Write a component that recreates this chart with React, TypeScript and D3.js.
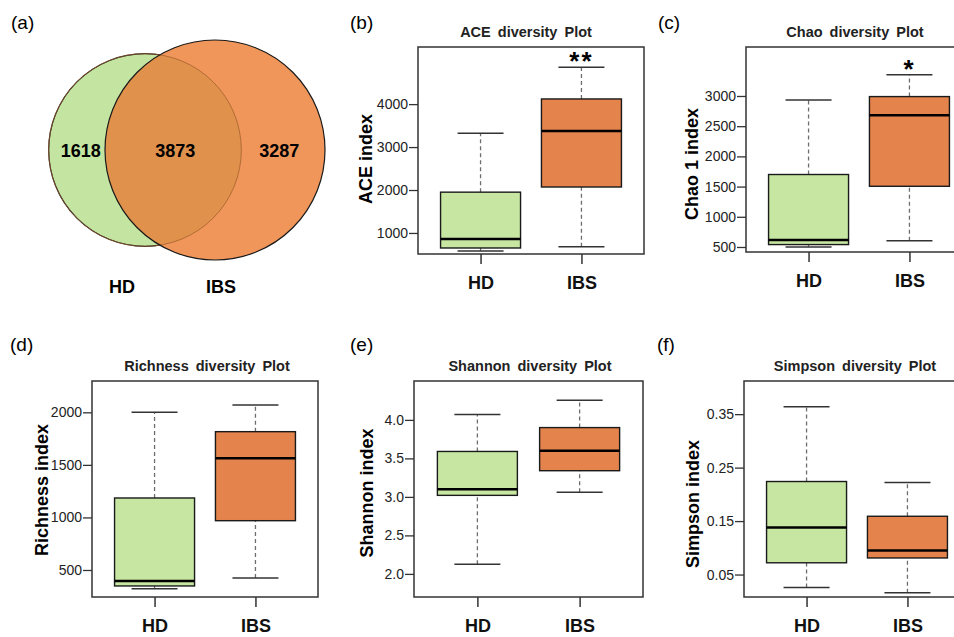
import React, { useEffect, useRef } from "react";
import * as d3 from "d3";

const groups = ["HD", "IBS"];

// venn: HD only, shared, IBS only
const vennCounts = [1618, 3873, 3287];

// box stats per group: [lower whisker, Q1, median, Q3, upper whisker]
const aceStats = [
  [580, 650, 860, 1950, 3320],
  [680, 2070, 3375, 4120, 4860],
];
const chaoStats = [
  [500, 540, 615, 1700, 2935],
  [604, 1505, 2680, 2990, 3350],
];
const richnessStats = [
  [322, 348, 395, 1185, 2000],
  [424, 969, 1563, 1816, 2070],
];
const shannonStats = [
  [2.125, 3.02, 3.1, 3.59, 4.07],
  [3.06, 3.34, 3.6, 3.9, 4.255],
];
const simpsonStats = [
  [0.026, 0.072, 0.138, 0.224, 0.364],
  [0.016, 0.081, 0.095, 0.159, 0.222],
];

const aceTicks = [1000, 2000, 3000, 4000];
const chaoTicks = [500, 1000, 1500, 2000, 2500, 3000];
const richnessTicks = [500, 1000, 1500, 2000];
const shannonTicks = [2.0, 2.5, 3.0, 3.5, 4.0];
const simpsonTicks = [0.05, 0.15, 0.25, 0.35];

const aceSignif = ["", "**"];
const chaoSignif = ["", "*"];

const FONT = "'Liberation Sans', Arial, Helvetica, sans-serif";
const GREEN = "#c6e6a2";
const ORANGE = "#e5834d";

const panels = [
  { tag: "(b)", title: "ACE diversity Plot", ylabel: "ACE index", stats: aceStats, ticks: aceTicks, domain: [510, 5330], fmt: "d", signif: aceSignif,
    left: 418, top: 47, width: 226, height: 207, tagX: 350, tagY: 29, titleX: 526, labelX: 372, labelY: 159 },
  { tag: "(c)", title: "Chao diversity Plot", ylabel: "Chao 1 index", stats: chaoStats, ticks: chaoTicks, domain: [417, 3811], fmt: "d", signif: chaoSignif,
    left: 746, top: 47, width: 226, height: 205, tagX: 658, tagY: 29, titleX: 855, labelX: 698, labelY: 164 },
  { tag: "(d)", title: "Richness diversity Plot", ylabel: "Richness index", stats: richnessStats, ticks: richnessTicks, domain: [243, 2298], fmt: "d", signif: ["", ""],
    left: 92, top: 381, width: 226, height: 216, tagX: 10, tagY: 351, titleX: 207, labelX: 48, labelY: 490 },
  { tag: "(e)", title: "Shannon diversity Plot", ylabel: "Shannon index", stats: shannonStats, ticks: shannonTicks, domain: [1.7, 4.505], fmt: ".1f", signif: ["", ""],
    left: 414, top: 381, width: 229, height: 216, tagX: 350, tagY: 351, titleX: 530, labelX: 373, labelY: 493 },
  { tag: "(f)", title: "Simpson diversity Plot", ylabel: "Simpson index", stats: simpsonStats, ticks: simpsonTicks, domain: [0.008, 0.412], fmt: ".2f", signif: ["", ""],
    left: 744, top: 381, width: 226, height: 216, tagX: 657, tagY: 351, titleX: 855, labelX: 699, labelY: 504 },
];

const App = () => {
  const svgRef = useRef<SVGSVGElement>(null);

  useEffect(() => {
    const svg = d3.select(svgRef.current);
    svg.selectAll("*").remove();

    // ---- (a) venn ----
    svg.append("text").attr("x", 11).attr("y", 29).attr("font-size", 19).text("(a)");

    const totals = [vennCounts[0] + vennCounts[1], vennCounts[1] + vennCounts[2]];
    const r = d3.scaleSqrt().domain([0, d3.max(totals)]).range([0, 110]);
    const centers = [[145, 150], [215, 150]];
    const r0 = r(totals[0]), r1 = r(totals[1]);

    const defs = svg.append("defs");
    defs.append("clipPath").attr("id", "hdclip")
      .append("circle").attr("cx", centers[0][0]).attr("cy", centers[0][1]).attr("r", r0);

    const venn = svg.append("g");
    venn.append("circle").attr("cx", centers[0][0]).attr("cy", centers[0][1]).attr("r", r0)
      .attr("fill", "#c3e5a1").attr("stroke", "#1a1a1a").attr("stroke-width", 1.2);
    venn.append("circle").attr("cx", centers[1][0]).attr("cy", centers[1][1]).attr("r", r1)
      .attr("fill", "#f0965a");
    venn.append("circle").attr("cx", centers[1][0]).attr("cy", centers[1][1]).attr("r", r1)
      .attr("fill", "#e0914b").attr("clip-path", "url(#hdclip)");
    venn.append("circle").attr("cx", centers[0][0]).attr("cy", centers[0][1]).attr("r", r0)
      .attr("fill", "none").attr("stroke", "#9a5a2a").attr("stroke-width", 1).attr("opacity", 0.7);
    venn.append("circle").attr("cx", centers[1][0]).attr("cy", centers[1][1]).attr("r", r1)
      .attr("fill", "none").attr("stroke", "#1a1a1a").attr("stroke-width", 1.2);

    const hdLeft = centers[0][0] - r0, hdRight = centers[0][0] + r0;
    const ibsLeft = centers[1][0] - r1, ibsRight = centers[1][0] + r1;
    const numX = [(hdLeft + ibsLeft) / 2 + 4, (ibsLeft + hdRight) / 2 + 2, (hdRight + ibsRight) / 2 - 4];
    venn.selectAll(".num").data(vennCounts).enter().append("text")
      .attr("x", (d, i) => numX[i]).attr("y", 157)
      .attr("text-anchor", "middle").attr("font-size", 18).attr("font-weight", "bold")
      .text((d) => d);
    const vennLabelX = [122, 221];
    venn.selectAll(".lab").data(groups).enter().append("text")
      .attr("x", (d, i) => vennLabelX[i]).attr("y", 293)
      .attr("text-anchor", "middle").attr("font-size", 18).attr("font-weight", "bold")
      .text((d) => d);

    // ---- box plots ----
    panels.forEach((p) => {
      svg.append("text").attr("x", p.tagX).attr("y", p.tagY).attr("font-size", 19).text(p.tag);
      svg.append("text").attr("x", p.titleX).attr("y", p.top - 10)
        .attr("text-anchor", "middle").attr("font-size", 14.5).attr("font-weight", "bold")
        .attr("word-spacing", 3).attr("fill", "#222").text(p.title);
      svg.append("text")
        .attr("transform", `translate(${p.labelX},${p.labelY}) rotate(-90)`)
        .attr("text-anchor", "middle").attr("font-size", 18).attr("font-weight", "bold")
        .text(p.ylabel);

      const g = svg.append("g").attr("transform", `translate(${p.left},${p.top})`);
      const x = d3.scalePoint().domain(groups).range([0, p.width]).padding(0.62);
      const y = d3.scaleLinear().domain(p.domain).range([p.height, 0]);
      const boxW = 80, capW = 46;

      groups.forEach((grp, i) => {
        const [lo, q1, med, q3, hi] = p.stats[i];
        const cx = x(grp);
        const box = g.append("g");
        [[q3, hi], [lo, q1]].forEach(([a, b]) => {
          box.append("line").attr("x1", cx).attr("x2", cx).attr("y1", y(a)).attr("y2", y(b))
            .attr("stroke", "#6e6e6e").attr("stroke-width", 1.3).attr("stroke-dasharray", "4,3");
        });
        [lo, hi].forEach((v) => {
          box.append("line").attr("x1", cx - capW / 2).attr("x2", cx + capW / 2).attr("y1", y(v)).attr("y2", y(v))
            .attr("stroke", "#333").attr("stroke-width", 1.5);
        });
        box.append("rect").attr("x", cx - boxW / 2).attr("width", boxW)
          .attr("y", y(q3)).attr("height", y(q1) - y(q3))
          .attr("fill", i === 0 ? GREEN : ORANGE).attr("stroke", "#1a1a1a").attr("stroke-width", 1.4);
        box.append("line").attr("x1", cx - boxW / 2).attr("x2", cx + boxW / 2).attr("y1", y(med)).attr("y2", y(med))
          .attr("stroke", "#000").attr("stroke-width", 2.5);
        if (p.signif[i]) {
          box.append("text").attr("x", cx).attr("y", y(hi) + 3)
            .attr("text-anchor", "middle").attr("font-size", 26).attr("font-weight", "bold")
            .attr("letter-spacing", 2).text(p.signif[i]);
        }
      });

      g.append("rect").attr("width", p.width).attr("height", p.height)
        .attr("fill", "none").attr("stroke", "#333").attr("stroke-width", 1.5);

      const ya = g.append("g")
        .call(d3.axisLeft(y).tickValues(p.ticks).tickSize(9).tickPadding(1).tickFormat(d3.format(p.fmt)));
      ya.select(".domain").remove();
      ya.attr("font-family", FONT).attr("font-size", 14);
      ya.selectAll("line").attr("stroke", "#333").attr("stroke-width", 1.3);
      ya.selectAll("text").attr("fill", "#222");

      const xa = g.append("g").attr("transform", `translate(0,${p.height})`)
        .call(d3.axisBottom(x).tickSize(10).tickPadding(12));
      xa.select(".domain").remove();
      xa.attr("font-family", FONT).attr("font-size", 18).attr("font-weight", "bold");
      xa.selectAll("line").attr("stroke", "#333").attr("stroke-width", 1.5);
      xa.selectAll("text").attr("fill", "#111");
    });
  }, []);

  return (
    <div style={{ position: "absolute", left: 0, top: 0 }}>
      <svg ref={svgRef} width={954} height={637} style={{ display: "block", background: "#fff", fontFamily: FONT }}></svg>
    </div>
  );
};

export default App;
